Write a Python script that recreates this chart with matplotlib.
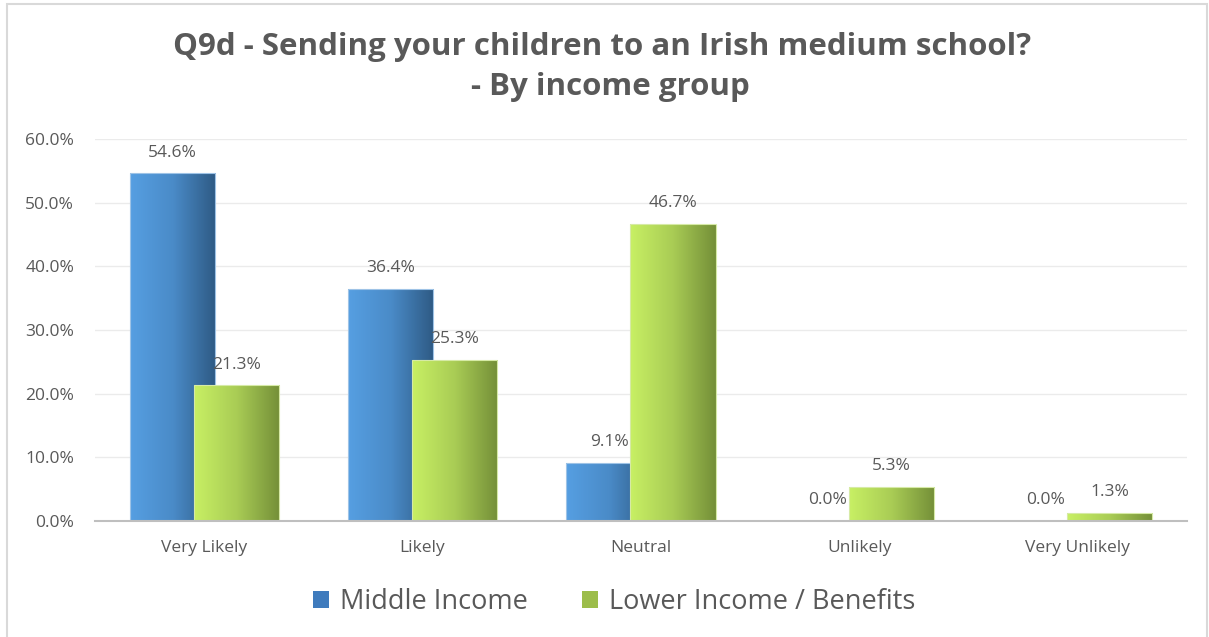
import matplotlib.pyplot as plt
import numpy as np
from matplotlib.colors import LinearSegmentedColormap
from matplotlib.patches import Rectangle

categories = ["Very Likely", "Likely", "Neutral", "Unlikely", "Very Unlikely"]
middle_income = [54.6, 36.4, 9.1, 0.0, 0.0]
lower_income = [21.3, 25.3, 46.7, 5.3, 1.3]
series_names = ["Middle Income", "Lower Income / Benefits"]

plt.rcParams['font.family'] = ['Open Sans', 'DejaVu Sans']
W, H = 1209, 637
fig = plt.figure(figsize=(W / 100, H / 100), dpi=100)
ax = fig.add_axes([95 / W, (H - 521) / H, (1187 - 95) / W, (521 - 139) / H])

# gradient colormaps (light left -> dark right)
blue_cm = LinearSegmentedColormap.from_list("b", ["#569fe2", "#4a8bc8", "#2e5a84"])
green_cm = LinearSegmentedColormap.from_list("g", ["#c8f064", "#a9cc55", "#748f38"])
grad = np.linspace(0, 1, 256).reshape(1, -1)

x = np.arange(len(categories))
width = 0.39
offset = 0.1465
text_col = "#595959"


def gradient_bars(xs, vals, cmap, edge, z):
    bars = ax.bar(xs, vals, width, facecolor="none", edgecolor="none", zorder=z)
    for b in bars:
        if b.get_height() <= 0:
            continue
        bx, by = b.get_x(), b.get_y()
        im = ax.imshow(grad, cmap=cmap, aspect="auto", zorder=z,
                       extent=[bx, bx + b.get_width(), by, by + b.get_height()])
        im.set_clip_path(b)
        ax.add_patch(Rectangle((bx, by), b.get_width(), b.get_height(),
                               facecolor="none", edgecolor=edge, lw=0.8, zorder=z + 0.1))
    return bars


gradient_bars(x - offset, middle_income, blue_cm, "#9ec3e6", 2)
gradient_bars(x + offset, lower_income, green_cm, "#d6eaa6", 3)

for xi, v in zip(x - offset, middle_income):
    ax.annotate(f"{v:.1f}%", (xi, v), xytext=(0, 15), textcoords="offset points",
                ha="center", va="center", fontsize=12.5, color=text_col, zorder=5)
for xi, v in zip(x + offset, lower_income):
    ax.annotate(f"{v:.1f}%", (xi, v), xytext=(0, 15), textcoords="offset points",
                ha="center", va="center", fontsize=12.5, color=text_col, zorder=5)

ax.set_xlim(-0.5, len(categories) - 0.5)
ax.set_ylim(0, 60)
ax.set_yticks(np.arange(0, 61, 10))
ax.set_yticklabels([f"{t:.1f}%" for t in np.arange(0, 61, 10)], fontsize=12.5, color=text_col)
ax.set_xticks(x)
ax.set_xticklabels(categories, fontsize=12.5, color=text_col)
ax.tick_params(length=0, axis="y", pad=15)
ax.tick_params(length=0, axis="x", pad=14)
ax.grid(axis="y", color="#ebebeb", lw=1)
ax.set_axisbelow(True)
for s in ["top", "right", "left"]:
    ax.spines[s].set_visible(False)
ax.spines["bottom"].set_color("#bfbfbf")
ax.spines["bottom"].set_linewidth(1.5)
ax.spines["bottom"].set_zorder(6)

fig.text(602 / W, 1 - 47 / H, "Q9d - Sending your children to an Irish medium school?",
         ha="center", va="center", fontsize=22.5, fontweight="bold", color=text_col)
fig.text(610 / W, 1 - 87 / H, "- By income group",
         ha="center", va="center", fontsize=22.5, fontweight="bold", color=text_col)

# legend
handles = [Rectangle((0, 0), 1, 1, facecolor="#3f7bbd"), Rectangle((0, 0), 1, 1, facecolor="#9cbd4a")]
fig.legend(handles, series_names, loc="center", bbox_to_anchor=(614 / W, 1 - 602 / H),
           ncol=2, frameon=False, fontsize=19.5, handlelength=0.6, handleheight=0.6,
           handletextpad=0.4, columnspacing=2.0, labelcolor=text_col)

# chart border
fig.patches.append(Rectangle((7 / W, -0.01), (1207 - 7) / W, 1 - 4 / H + 0.01,
                             transform=fig.transFigure, facecolor="none",
                             edgecolor="#d9d9d9", lw=1.5))

fig.savefig("out.png", dpi=100)
